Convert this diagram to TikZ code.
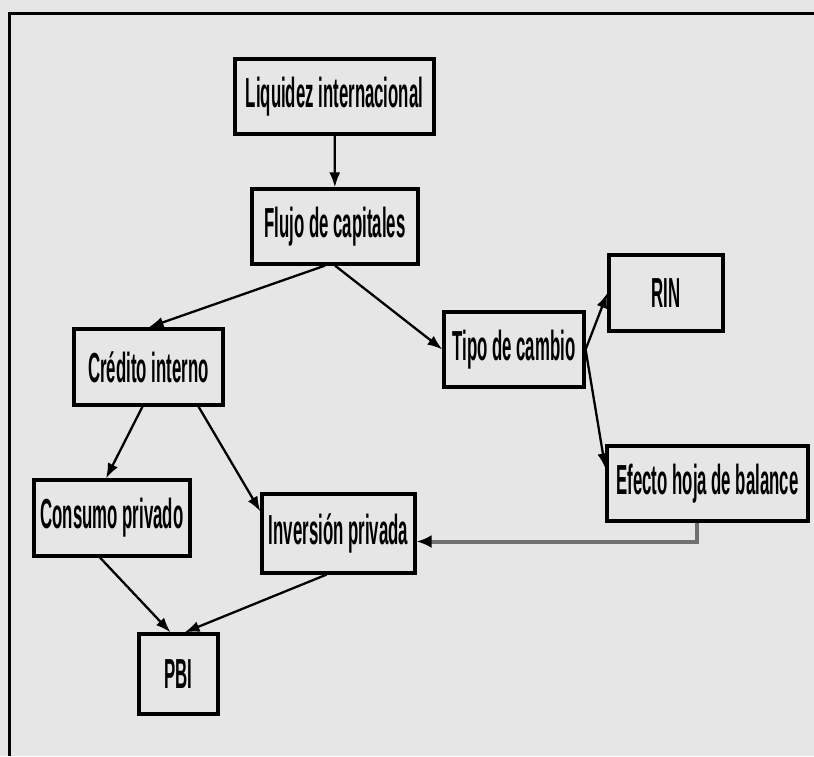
\documentclass[tikz,border=0pt]{standalone}
\usepackage{fontspec}
\setmainfont{Liberation Sans}[FakeStretch=0.4]
\usetikzlibrary{arrows.meta}
\definecolor{panelgray}{HTML}{E6E6E6}
\definecolor{linkgray}{HTML}{707070}

\begin{document}
\begin{tikzpicture}[x=1pt,y=-1pt,
    box/.style={rectangle,draw,line width=3.2pt,inner sep=0pt,
      font=\fontsize{42}{46}\selectfont\bfseries},
    link/.style={-{Latex[length=15pt,width=11pt]},line width=2.3pt}]
    \useasboundingbox (0,0) rectangle (814,756);
    \fill[panelgray] (0,0) rectangle (814,756);
    % frame: top and left edges only
    \fill[black] (7.5,11.5) rectangle (814,14.5);
    \fill[black] (7.5,11.5) rectangle (10.5,756);
    \draw node (liquidez) [box,minimum width=199pt,minimum height=75pt] at (334.5,96.5) {Liquidez internacional}
          node (flujo) [box,minimum width=166pt,minimum height=75pt] at (335,226.5) {Flujo de capitales}
          node (rin) [box,minimum width=114pt,minimum height=76pt] at (666,293) {RIN}
          node (tipo) [box,minimum width=140pt,minimum height=75pt] at (514,349.5) {Tipo de cambio}
          node (credito) [box,minimum width=149pt,minimum height=76pt] at (148.5,367) {Crédito interno}
          node (efecto) [box,minimum width=201pt,minimum height=75pt] at (707.5,483.5) {Efecto hoja de balance}
          node (consumo) [box,minimum width=156pt,minimum height=76pt] at (112,518) {Consumo privado}
          node (inversion) [box,minimum width=153pt,minimum height=79pt] at (338.5,533.5) {Inversión privada}
          node (pbi) [box,minimum width=79pt,minimum height=80pt] at (178.5,674) {PBI};
    \draw[link] (liquidez) -- (flujo);
    \draw[link] ([xshift=-10pt]flujo.south) -- (credito.north);
    \draw[link] (flujo.south) -- (tipo.west);
    \draw[link] (tipo.east) -- (rin.west);
    \draw[link] (tipo.east) -- ([yshift=15pt]efecto.west);
    \draw[link] ([xshift=-6pt]credito.south) -- ([xshift=-6pt]consumo.north);
    \draw[link] ([xshift=50pt]credito.south) -- ([yshift=22pt]inversion.west);
    \draw[-{Latex[length=15pt,width=13pt,color=black]},line width=4pt,linkgray] ([xshift=-11pt]efecto.south) |- ([yshift=-8pt]inversion.east);
    \draw[link] ([xshift=-12pt]consumo.south) -- ([xshift=-8pt]pbi.north);
    \draw[link] ([xshift=-12pt]inversion.south) -- ([xshift=6pt]pbi.north);
  \end{tikzpicture}
\end{document}
